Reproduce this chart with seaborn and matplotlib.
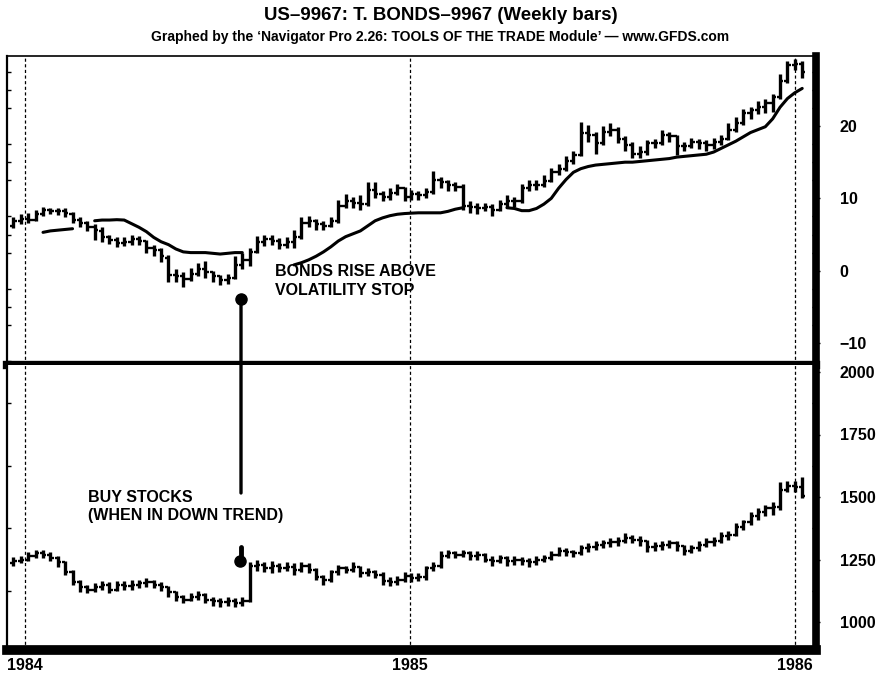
import pandas as pd
import numpy as np
import matplotlib
matplotlib.use("Agg")
import matplotlib.pyplot as plt
from matplotlib.patches import ConnectionPatch
from matplotlib.ticker import MultipleLocator
import seaborn as sns

# weekly bars, T-bonds (top) and stocks (bottom)
weeks = pd.date_range("1983-12-21", periods=108, freq="7D")

bond_open = [6.2, 6.8, 7.2, 7.0, 7.9, 8.4, 8.3, 8.2, 7.9, 7.0,
             6.6, 6.0, 5.5, 4.6, 4.3, 3.8, 4.0, 4.4, 4.1, 3.2,
             2.8, 1.8, -0.6, -0.8, -1.2, -0.4, 0.2, -0.2, -0.8, -1.3,
             -1.0, 0.8, 1.5, 2.6, 4.0, 4.4, 4.1, 3.6, 4.0, 4.6,
             6.6, 6.8, 6.4, 6.2, 6.8, 9.0, 9.6, 9.4, 9.2, 11.2,
             10.6, 10.2, 10.8, 11.4, 10.2, 10.6, 10.4, 10.9, 12.6, 12.2,
             11.8, 11.6, 9.0, 8.8, 8.6, 8.8, 8.4, 9.2, 9.6, 9.6,
             11.4, 11.8, 11.9, 12.4, 13.6, 14.0, 15.2, 16.0, 19.0, 18.8,
             17.6, 19.2, 19.4, 18.2, 17.4, 16.2, 16.4, 17.6, 17.6, 18.8,
             18.6, 17.2, 17.2, 17.8, 17.6, 17.4, 17.8, 18.2, 19.4, 20.4,
             21.8, 22.2, 22.6, 23.2, 24.0, 26.2, 28.4, 28.6]
bond_high = [7.4, 7.8, 8.0, 8.4, 8.8, 8.7, 8.7, 8.6, 8.1, 7.4,
             6.9, 6.4, 6.0, 5.0, 4.6, 4.6, 5.0, 4.8, 4.3, 3.6,
             3.2, 2.2, 0.3, -0.2, 0.4, 1.0, 1.4, 0.0, -0.6, -0.4,
             2.0, 2.4, 3.2, 4.8, 5.0, 5.0, 4.5, 4.6, 5.6, 7.4,
             7.6, 7.2, 6.9, 7.4, 9.8, 10.6, 10.2, 10.4, 12.2, 12.2,
             11.0, 11.4, 12.0, 11.6, 11.2, 11.0, 11.4, 13.8, 13.0, 12.6,
             12.2, 12.0, 9.6, 9.4, 9.4, 9.2, 9.8, 10.4, 10.2, 12.0,
             12.6, 12.6, 13.2, 14.2, 14.8, 15.8, 16.6, 20.6, 20.2, 19.2,
             20.0, 20.4, 19.8, 18.6, 17.8, 17.2, 18.0, 18.2, 19.4, 19.2,
             18.8, 17.8, 18.4, 18.2, 18.0, 18.4, 18.8, 20.4, 21.2, 22.4,
             22.6, 23.4, 23.8, 24.4, 27.2, 29.0, 29.2, 29.0]
bond_low = [5.9, 6.5, 6.6, 6.9, 7.6, 7.8, 7.7, 7.4, 6.6, 6.1,
            5.5, 4.3, 3.9, 3.7, 3.3, 3.4, 3.6, 3.5, 2.5, 2.0,
            1.2, -1.6, -1.5, -2.2, -1.4, -0.8, -1.0, -1.6, -2.0, -1.8,
            -1.2, 0.2, 0.6, 2.4, 3.4, 3.6, 3.0, 3.2, 3.2, 4.4,
            6.0, 5.6, 5.6, 6.0, 6.6, 8.6, 8.6, 8.4, 9.0, 10.0,
            9.6, 9.8, 10.4, 9.6, 9.8, 9.8, 10.0, 10.6, 11.4, 11.0,
            11.0, 8.4, 8.0, 7.8, 8.2, 7.6, 8.2, 8.8, 8.8, 9.4,
            11.0, 11.2, 11.6, 12.2, 13.2, 13.8, 14.8, 15.8, 17.8, 16.2,
            17.4, 18.6, 17.6, 16.6, 15.6, 15.6, 16.0, 17.0, 17.4, 17.8,
            16.0, 16.6, 17.0, 16.8, 16.6, 16.8, 17.4, 18.0, 19.2, 20.2,
            21.0, 21.6, 21.8, 22.0, 23.8, 26.0, 27.8, 26.6]
bond_close = [6.8, 7.2, 7.0, 7.9, 8.4, 8.3, 8.2, 8.0, 7.0, 6.6,
              6.0, 5.6, 4.6, 4.3, 3.8, 4.0, 4.4, 4.1, 3.2, 2.8,
              2.0, -0.6, -0.8, -1.2, -0.4, 0.2, -0.2, -0.8, -1.3, -1.0,
              0.8, 1.5, 2.6, 4.0, 4.4, 4.1, 3.6, 4.0, 4.6, 6.6,
              6.8, 6.4, 6.2, 6.8, 9.0, 9.6, 9.4, 9.2, 11.2, 10.6,
              10.2, 10.8, 11.4, 10.2, 10.6, 10.4, 10.9, 12.6, 12.2, 11.8,
              11.6, 9.0, 8.8, 8.6, 8.8, 8.4, 9.2, 9.6, 9.6, 11.4,
              11.8, 11.9, 12.4, 13.6, 14.0, 15.2, 16.0, 19.0, 18.8, 17.6,
              19.2, 19.4, 18.2, 17.4, 16.2, 16.4, 17.6, 17.6, 18.8, 18.6,
              17.2, 17.2, 17.8, 17.6, 17.4, 17.8, 18.2, 19.4, 20.4, 21.8,
              22.2, 22.6, 23.2, 24.0, 26.2, 28.4, 28.6, 27.4]

# volatility stop (None = not drawn)
vol_stop = [None, None, None, None, 5.3, 5.5, 5.6, 5.7, 5.8, None,
            None, 6.9, 7.0, 7.0, 7.05, 7.0, 6.5, 6.0, 5.4, 4.6,
            4.0, 3.6, 3.0, 2.6, 2.5, 2.5, 2.5, 2.4, 2.3, 2.4,
            2.5, 2.5, None, None, None, None, None, None, 0.8, 1.1,
            1.5, 2.0, 2.6, 3.3, 4.1, 4.7, 5.1, 5.5, 6.2, 6.9,
            7.3, 7.6, 7.8, 7.9, 7.95, 8.0, 8.0, 8.0, 8.0, 8.2,
            8.5, 8.7, None, None, None, None, None, 8.7, 8.6, 8.3,
            8.3, 8.6, 9.2, 10.0, 11.4, 12.6, 13.6, 14.1, 14.4, 14.6,
            14.7, 14.8, 14.9, 15.0, 15.0, 15.1, 15.2, 15.3, 15.4, 15.5,
            15.7, 15.8, 15.9, 16.0, 16.1, 16.4, 16.9, 17.4, 17.9, 18.5,
            19.1, 19.5, 19.9, 21.0, 22.6, 23.8, 24.6, 25.2]

stock_open = [1235, 1245, 1250, 1265, 1275, 1270, 1255, 1240, 1200, 1160,
              1140, 1130, 1140, 1150, 1130, 1150, 1145, 1150, 1155, 1160,
              1150, 1140, 1120, 1100, 1090, 1100, 1110, 1090, 1085, 1080,
              1085, 1075, 1085, 1225, 1230, 1215, 1225, 1215, 1220, 1210,
              1225, 1210, 1180, 1170, 1200, 1215, 1210, 1220, 1195, 1200,
              1190, 1165, 1160, 1170, 1185, 1175, 1180, 1215, 1225, 1265,
              1275, 1270, 1275, 1265, 1270, 1250, 1245, 1255, 1245, 1250,
              1245, 1240, 1250, 1255, 1270, 1285, 1280, 1275, 1295, 1300,
              1310, 1315, 1320, 1325, 1335, 1330, 1325, 1300, 1305, 1310,
              1315, 1305, 1285, 1295, 1310, 1320, 1325, 1345, 1350, 1380,
              1400, 1425, 1440, 1455, 1460, 1530, 1545, 1540]
stock_high = [1260, 1265, 1280, 1290, 1290, 1280, 1265, 1245, 1210, 1170,
              1150, 1155, 1165, 1160, 1165, 1165, 1170, 1170, 1175, 1170,
              1160, 1145, 1125, 1110, 1115, 1125, 1115, 1100, 1095, 1100,
              1095, 1100, 1240, 1250, 1240, 1245, 1235, 1240, 1235, 1240,
              1235, 1215, 1190, 1210, 1230, 1225, 1240, 1225, 1215, 1210,
              1200, 1180, 1185, 1200, 1195, 1195, 1225, 1240, 1285, 1290,
              1285, 1290, 1285, 1285, 1275, 1265, 1270, 1265, 1265, 1260,
              1255, 1265, 1270, 1285, 1300, 1295, 1290, 1310, 1315, 1325,
              1330, 1335, 1340, 1355, 1350, 1345, 1330, 1320, 1325, 1330,
              1325, 1310, 1310, 1325, 1335, 1340, 1360, 1365, 1395, 1410,
              1440, 1455, 1470, 1480, 1560, 1565, 1565, 1580]
stock_low = [1225, 1235, 1245, 1255, 1255, 1245, 1220, 1190, 1150, 1120,
             1115, 1120, 1130, 1115, 1125, 1130, 1130, 1135, 1140, 1135,
             1125, 1100, 1085, 1075, 1085, 1090, 1075, 1065, 1060, 1065,
             1060, 1065, 1080, 1205, 1200, 1195, 1200, 1205, 1190, 1200,
             1195, 1170, 1150, 1160, 1190, 1195, 1200, 1180, 1185, 1175,
             1150, 1145, 1150, 1160, 1160, 1165, 1170, 1205, 1215, 1255,
             1255, 1260, 1250, 1250, 1240, 1225, 1235, 1225, 1230, 1230,
             1220, 1230, 1240, 1250, 1265, 1265, 1260, 1270, 1280, 1290,
             1295, 1300, 1305, 1315, 1315, 1305, 1280, 1285, 1290, 1295,
             1285, 1270, 1275, 1285, 1300, 1305, 1315, 1330, 1345, 1370,
             1390, 1410, 1425, 1430, 1450, 1520, 1520, 1495]
stock_close = [1245, 1250, 1265, 1275, 1270, 1255, 1240, 1200, 1160, 1140,
               1130, 1140, 1150, 1130, 1150, 1145, 1150, 1155, 1160, 1150,
               1140, 1120, 1100, 1090, 1100, 1110, 1090, 1085, 1080, 1085,
               1075, 1085, 1225, 1230, 1215, 1225, 1215, 1220, 1210, 1225,
               1210, 1180, 1170, 1200, 1215, 1210, 1220, 1195, 1200, 1190,
               1165, 1160, 1170, 1185, 1175, 1180, 1215, 1225, 1265, 1275,
               1270, 1275, 1265, 1270, 1250, 1245, 1255, 1245, 1250, 1245,
               1240, 1250, 1255, 1270, 1285, 1280, 1275, 1295, 1300, 1310,
               1315, 1320, 1325, 1335, 1330, 1325, 1300, 1305, 1310, 1315,
               1305, 1285, 1295, 1310, 1320, 1325, 1345, 1350, 1380, 1400,
               1425, 1440, 1455, 1460, 1530, 1545, 1540, 1505]

year_ticks = [1984, 1985, 1986]
bond_ticks = [-10, 0, 10, 20]
stock_ticks = [1000, 1250, 1500, 1750, 2000]

# decimal-year x positions
t = np.asarray(weeks.year + (weeks.dayofyear - 1) / 365.0, dtype=float)

sns.set_style("white")
plt.rcParams["font.family"] = ["Liberation Sans", "DejaVu Sans"]
plt.rcParams["font.weight"] = "bold"
plt.rcParams["text.color"] = "black"
plt.rcParams["xtick.color"] = "black"
plt.rcParams["ytick.color"] = "black"

W, H = 881, 673
fig = plt.figure(figsize=(W / 100, H / 100), dpi=100)
L, R = 7, 816
ax1 = fig.add_axes([L / W, 1 - 365 / H, (R - L) / W, (365 - 56) / H])
ax2 = fig.add_axes([L / W, 1 - 650 / H, (R - L) / W, (650 - 365) / H])

tick = 0.0085


def ohlc(ax, o, h, l, c):
    ax.vlines(t, l, h, color="black", lw=2.4)
    ax.hlines(o, t - tick, t, color="black", lw=1.7)
    ax.hlines(c, t, t + tick, color="black", lw=1.7)


ohlc(ax1, bond_open, bond_high, bond_low, bond_close)
ohlc(ax2, stock_open, stock_high, stock_low, stock_close)

# volatility stop as separate segments
stop = pd.DataFrame({"t": t, "stop": pd.array(vol_stop, dtype="Float64")})
stop["seg"] = stop["stop"].isna().cumsum()
stop = stop.dropna()
stop["stop"] = stop["stop"].astype(float)
sns.lineplot(data=stop, x="t", y="stop", units="seg", estimator=None,
             color="black", lw=2.2, ax=ax1, legend=False)

for ax in (ax1, ax2):
    for yr in year_ticks:
        ax.axvline(yr, color="black", lw=0.9, ls=(0, (2.5, 2)))
    ax.set_xlim(1983.953, 1986.055)
    ax.yaxis.tick_right()
    ax.tick_params(axis="y", which="major", direction="out", length=3,
                   width=1, pad=14, labelsize=11.5, colors="black")
    ax.tick_params(axis="y", which="minor", direction="in", length=3,
                   width=1, left=True, right=True)
    ax.set_xlabel("")
    ax.set_ylabel("")
    ax.spines["left"].set_linewidth(1.6)
    ax.spines["right"].set_linewidth(5.5)
    for s in ax.spines.values():
        s.set_color("black")

ax1.set_ylim(-13.04, 29.68)
ax1.set_yticks(bond_ticks)
ax1.yaxis.set_minor_locator(MultipleLocator(2.5))
ax1.set_xticks([])
ax1.spines["top"].set_linewidth(1.2)
ax1.spines["bottom"].set_linewidth(6)

ax2.set_ylim(888, 2028)
ax2.set_yticks(stock_ticks)
ax2.yaxis.set_minor_locator(MultipleLocator(125))
ax2.set_xticks(year_ticks)
ax2.set_xticklabels([str(y) for y in year_ticks])
ax2.tick_params(axis="x", length=0, pad=6, labelsize=11.5, colors="black")
ax2.spines["top"].set_visible(False)
ax2.spines["bottom"].set_linewidth(7)

# signal markers and connecting line
sig_x = 1984.561
ax1.plot([sig_x], [-3.9], "o", color="black", ms=8)
con = ConnectionPatch(xyA=(sig_x, -3.9), coordsA=ax1.transData,
                      xyB=(sig_x, 1516), coordsB=ax2.transData,
                      color="black", lw=2.4)
fig.add_artist(con)
ax2.plot([sig_x, sig_x], [1300, 1250], color="black", lw=3.5)
ax2.plot([sig_x - 0.003], [1243], "o", color="black", ms=8)

ax1.text(1984.649, 0.9, "BONDS RISE ABOVE\nVOLATILITY STOP", fontsize=11.5,
         fontweight="bold", va="top", ha="left", linespacing=1.3, color="black")
ax2.text(1984.164, 1530, "BUY STOCKS\n(WHEN IN DOWN TREND)", fontsize=11.5,
         fontweight="bold", va="top", ha="left", linespacing=1.3, color="black")

fig.text(0.5, 1 - 15 / H, "US\u20139967: T. BONDS\u20139967 (Weekly bars)",
         ha="center", va="center", fontsize=13.4, fontweight="bold",
         color="black")
fig.text(0.5, 1 - 37 / H,
         "Graphed by the \u2018Navigator Pro 2.26: TOOLS OF THE TRADE Module\u2019 \u2014 www.GFDS.com",
         ha="center", va="center", fontsize=10, fontweight="bold", color="black")

fig.savefig("out.png", dpi=100)
